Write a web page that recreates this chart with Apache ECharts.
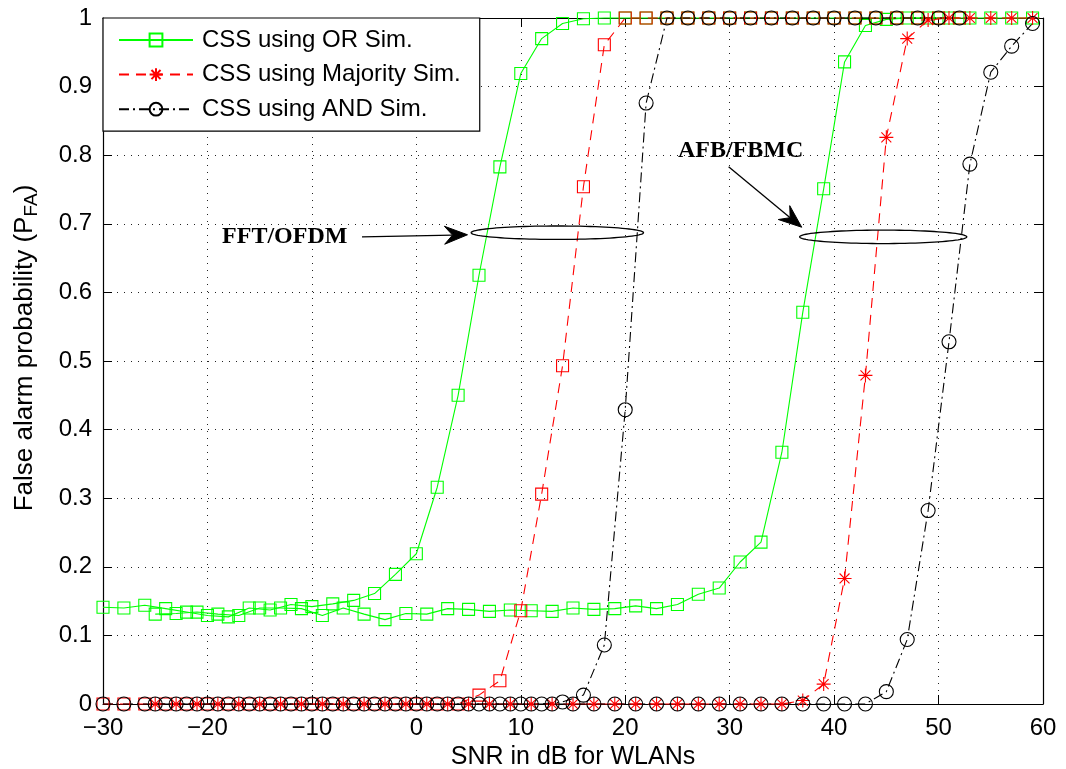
<!DOCTYPE html>
<html>
<head>
<meta charset="utf-8">
<script src="https://cdn.jsdelivr.net/npm/echarts@6/dist/echarts.min.js"></script>
<style>
  html, body { margin: 0; padding: 0; background: #fff; }
  #chart { width: 1066px; height: 769px; }
</style>
</head>
<body>
<div id="chart"></div>
<script>
// SNR grids (dB): FFT/OFDM runs on even values, AFB/FBMC on odd values
const fftSnr = [-30, -28, -26, -24, -22, -20, -18, -16, -14, -12, -10, -8, -6, -4, -2, 0, 2, 4, 6, 8, 10,
  12, 14, 16, 18, 20, 22, 24, 26, 28, 30, 32, 34, 36, 38, 40, 42, 44, 46, 48, 50, 52];
const afbSnr = [-25, -23, -21, -19, -17, -15, -13, -11, -9, -7, -5, -3, -1, 1, 3, 5, 7, 9, 11, 13, 15, 17,
  19, 21, 23, 25, 27, 29, 31, 33, 35, 37, 39, 41, 43, 45, 47, 49, 51, 53, 55, 57, 59];

// False alarm probability, FFT/OFDM
const fftOr = [0.141, 0.140, 0.144, 0.139, 0.134, 0.129, 0.127, 0.140, 0.137, 0.145, 0.142, 0.146, 0.151,
  0.161, 0.189, 0.219, 0.316, 0.450, 0.625, 0.783, 0.919, 0.970, 0.992, 0.999, 1, 1, 1, 1, 1, 1, 1, 1, 1, 1,
  1, 1, 1, 1, 1, 1, 1, 1];
const fftMaj = [0, 0, 0, 0, 0, 0, 0, 0, 0, 0, 0, 0, 0, 0, 0, 0, 0, 0, 0.013, 0.034, 0.136, 0.306, 0.493,
  0.754, 0.961, 1, 1, 1, 1, 1, 1, 1, 1, 1, 1, 1, 1, 1, 1, 1, 1, 1];
const fftAnd = [0, 0, 0, 0, 0, 0, 0, 0, 0, 0, 0, 0, 0, 0, 0, 0, 0, 0, 0, 0, 0, 0, 0.003, 0.013, 0.086,
  0.429, 0.876, 1, 1, 1, 1, 1, 1, 1, 1, 1, 1, 1, 1, 1, 1, 1];

// False alarm probability, AFB/FBMC
const afbOr = [0.131, 0.132, 0.134, 0.131, 0.129, 0.140, 0.140, 0.139, 0.129, 0.140, 0.131, 0.123, 0.132,
  0.131, 0.139, 0.138, 0.135, 0.137, 0.136, 0.135, 0.140, 0.138, 0.139, 0.143, 0.139, 0.145, 0.160, 0.169,
  0.207, 0.236, 0.367, 0.571, 0.751, 0.936, 0.989, 0.998, 1, 1, 1, 1, 1, 1, 1];
const afbMaj = [0, 0, 0, 0, 0, 0, 0, 0, 0, 0, 0, 0, 0, 0, 0, 0, 0, 0, 0, 0, 0, 0, 0, 0, 0, 0, 0, 0, 0, 0, 0,
  0.005, 0.029, 0.183, 0.479, 0.826, 0.970, 0.997, 1, 1, 1, 1, 1];
const afbAnd = [0, 0, 0, 0, 0, 0, 0, 0, 0, 0, 0, 0, 0, 0, 0, 0, 0, 0, 0, 0, 0, 0, 0, 0, 0, 0, 0, 0, 0, 0, 0,
  0, 0, 0, 0, 0.018, 0.094, 0.282, 0.528, 0.787, 0.921, 0.959, 0.992];

const names = ['CSS using OR Sim.', 'CSS using Majority Sim.', 'CSS using AND Sim.'];

// Annotation geometry in data units (SNR dB, probability)
const fftNote = { label: 'FFT/OFDM', textAt: [-18.6, 0.681], arrowFrom: [-5.2, 0.681], arrowTo: [4.9, 0.684],
  ellipseCenter: [13.5, 0.687], ellipseRadii: [8.25, 0.0098] };
const afbNote = { label: 'AFB/FBMC', textAt: [25.05, 0.806], arrowFrom: [29.9, 0.783], arrowTo: [36.9, 0.695],
  ellipseCenter: [44.7, 0.681], ellipseRadii: [8.0, 0.0098] };

const GREEN = '#00ff00', RED = '#ff0000', BLACK = '#000000';
const STAR = 'path://M0 5L10 5M5 0L5 10M1.46 1.46L8.54 8.54M1.46 8.54L8.54 1.46';
const FONT = '"Liberation Sans", Arial, Helvetica, sans-serif';

function pairs(xs, ys) { return xs.map((x, i) => [x, ys[i]]); }

function makeSeries(name, xs, ys, color, symbol, size, dash) {
  return {
    name: name,
    type: 'line',
    data: pairs(xs, ys),
    clip: false,
    symbol: symbol,
    symbolSize: size,
    showAllSymbol: true,
    itemStyle: { color: 'rgba(0,0,0,0)', borderColor: color, borderWidth: 1.1 },
    lineStyle: { color: color, width: 1.1, type: dash },
    emphasis: { disabled: true },
    animation: false
  };
}

const chart = echarts.init(document.getElementById('chart'), null, { renderer: 'canvas' });

const boxLine = { show: true, onZero: false, lineStyle: { color: '#000', width: 1.2 } };
const inTick = { show: true, inside: true, length: 9, lineStyle: { color: '#000' } };
const dotted = { show: true, lineStyle: { color: '#222', width: 1, type: [1, 6] } };

const option = {
  backgroundColor: '#ffffff',
  animation: false,
  textStyle: { fontFamily: FONT },
  grid: { left: 103, right: 23, top: 18, bottom: 65, containLabel: false, outerBoundsMode: 'none' },
  legend: {
    data: names,
    orient: 'vertical',
    left: 103,
    top: 18,
    padding: [10, 19, 10, 15],
    itemGap: 10.6,
    itemWidth: 74,
    itemHeight: 16,
    selectedMode: false,
    backgroundColor: '#ffffff',
    borderColor: '#000000',
    borderWidth: 1.2,
    textStyle: { fontSize: 24, color: '#000', fontFamily: FONT, padding: [0, 0, 0, 4] }
  },
  xAxis: [{
    type: 'value', min: -30, max: 60, interval: 10,
    name: 'SNR in dB for WLANs', nameLocation: 'middle', nameGap: 37,
    nameTextStyle: { fontSize: 25, color: '#000', fontFamily: FONT },
    axisLine: boxLine, axisTick: inTick,
    axisLabel: { fontSize: 24, color: '#000', margin: 12, fontFamily: FONT,
      formatter: v => (v < 0 ? '\u2212' + Math.abs(v) : String(v)) },
    splitLine: dotted
  }, {
    type: 'value', min: -30, max: 60, interval: 10, position: 'top',
    axisLine: boxLine, axisTick: inTick,
    axisLabel: { show: false }, splitLine: { show: false }
  }],
  yAxis: [{
    type: 'value', min: 0, max: 1, interval: 0.1,
    name: 'False alarm probability (P{sub|FA})', nameLocation: 'middle', nameGap: 62, nameRotate: 90,
    nameTextStyle: { fontSize: 26, color: '#000', fontFamily: FONT, lineHeight: 32, padding: [0, 0, 0, 26],
      rich: { sub: { fontSize: 19, lineHeight: 16, verticalAlign: 'bottom', color: '#000', fontFamily: FONT } } },
    axisLine: boxLine, axisTick: inTick,
    axisLabel: { fontSize: 24, color: '#000', margin: 11, fontFamily: FONT },
    splitLine: dotted
  }, {
    type: 'value', min: 0, max: 1, interval: 0.1, position: 'right',
    axisLine: boxLine, axisTick: inTick,
    axisLabel: { show: false }, splitLine: { show: false }
  }],
  series: [
    makeSeries(names[0], fftSnr, fftOr, GREEN, 'rect', 12, 'solid'),
    makeSeries(names[0], afbSnr, afbOr, GREEN, 'rect', 12, 'solid'),
    makeSeries(names[1], afbSnr, afbMaj, RED, STAR, 14, [10, 7]),
    makeSeries(names[1], fftSnr, fftMaj, RED, 'rect', 12, [10, 7]),
    makeSeries(names[2], fftSnr, fftAnd, BLACK, 'circle', 14, [10, 4, 2, 4]),
    makeSeries(names[2], afbSnr, afbAnd, BLACK, 'circle', 14, [10, 4, 2, 4])
  ]
};

chart.setOption(option);

// Annotations: callout text, arrow and an ellipse grouping the curves of each scheme
function px(p) { return chart.convertToPixel({ xAxisIndex: 0, yAxisIndex: 0 }, p); }

function ellipsePoints(center, radii) {
  const pts = [];
  for (let k = 0; k < 96; k++) {
    const t = (k / 96) * Math.PI * 2;
    pts.push(px([center[0] + radii[0] * Math.cos(t), center[1] + radii[1] * Math.sin(t)]));
  }
  return pts;
}

function arrowElements(from, to) {
  const a = px(from), b = px(to);
  const dx = b[0] - a[0], dy = b[1] - a[1];
  const len = Math.hypot(dx, dy);
  const ux = dx / len, uy = dy / len, nx = -uy, ny = ux;
  const headLen = 23, headHalf = 9, notch = 8;
  const back = [b[0] - ux * headLen, b[1] - uy * headLen];
  const mid = [b[0] - ux * (headLen - notch), b[1] - uy * (headLen - notch)];
  return [
    { type: 'line', shape: { x1: a[0], y1: a[1], x2: mid[0], y2: mid[1] },
      style: { stroke: '#000', lineWidth: 1.3 }, z: 100 },
    { type: 'polygon', shape: { points: [b, [back[0] + nx * headHalf, back[1] + ny * headHalf], mid,
        [back[0] - nx * headHalf, back[1] - ny * headHalf]] },
      style: { fill: '#000', stroke: '#000', lineWidth: 1 }, z: 100 }
  ];
}

function noteElements(note) {
  const t = px(note.textAt);
  return [
    { type: 'text', x: t[0], y: t[1], z: 100,
      style: { text: note.label, fill: '#000', font: 'bold 24px "Liberation Serif", "Times New Roman", serif',
        align: 'left', verticalAlign: 'middle' } },
    ...arrowElements(note.arrowFrom, note.arrowTo),
    { type: 'polygon', z: 100, shape: { points: ellipsePoints(note.ellipseCenter, note.ellipseRadii) },
      style: { fill: 'none', stroke: '#000', lineWidth: 1.3 } }
  ];
}

chart.setOption({ graphic: { elements: [...noteElements(fftNote), ...noteElements(afbNote)] } });
</script>
</body>
</html>
